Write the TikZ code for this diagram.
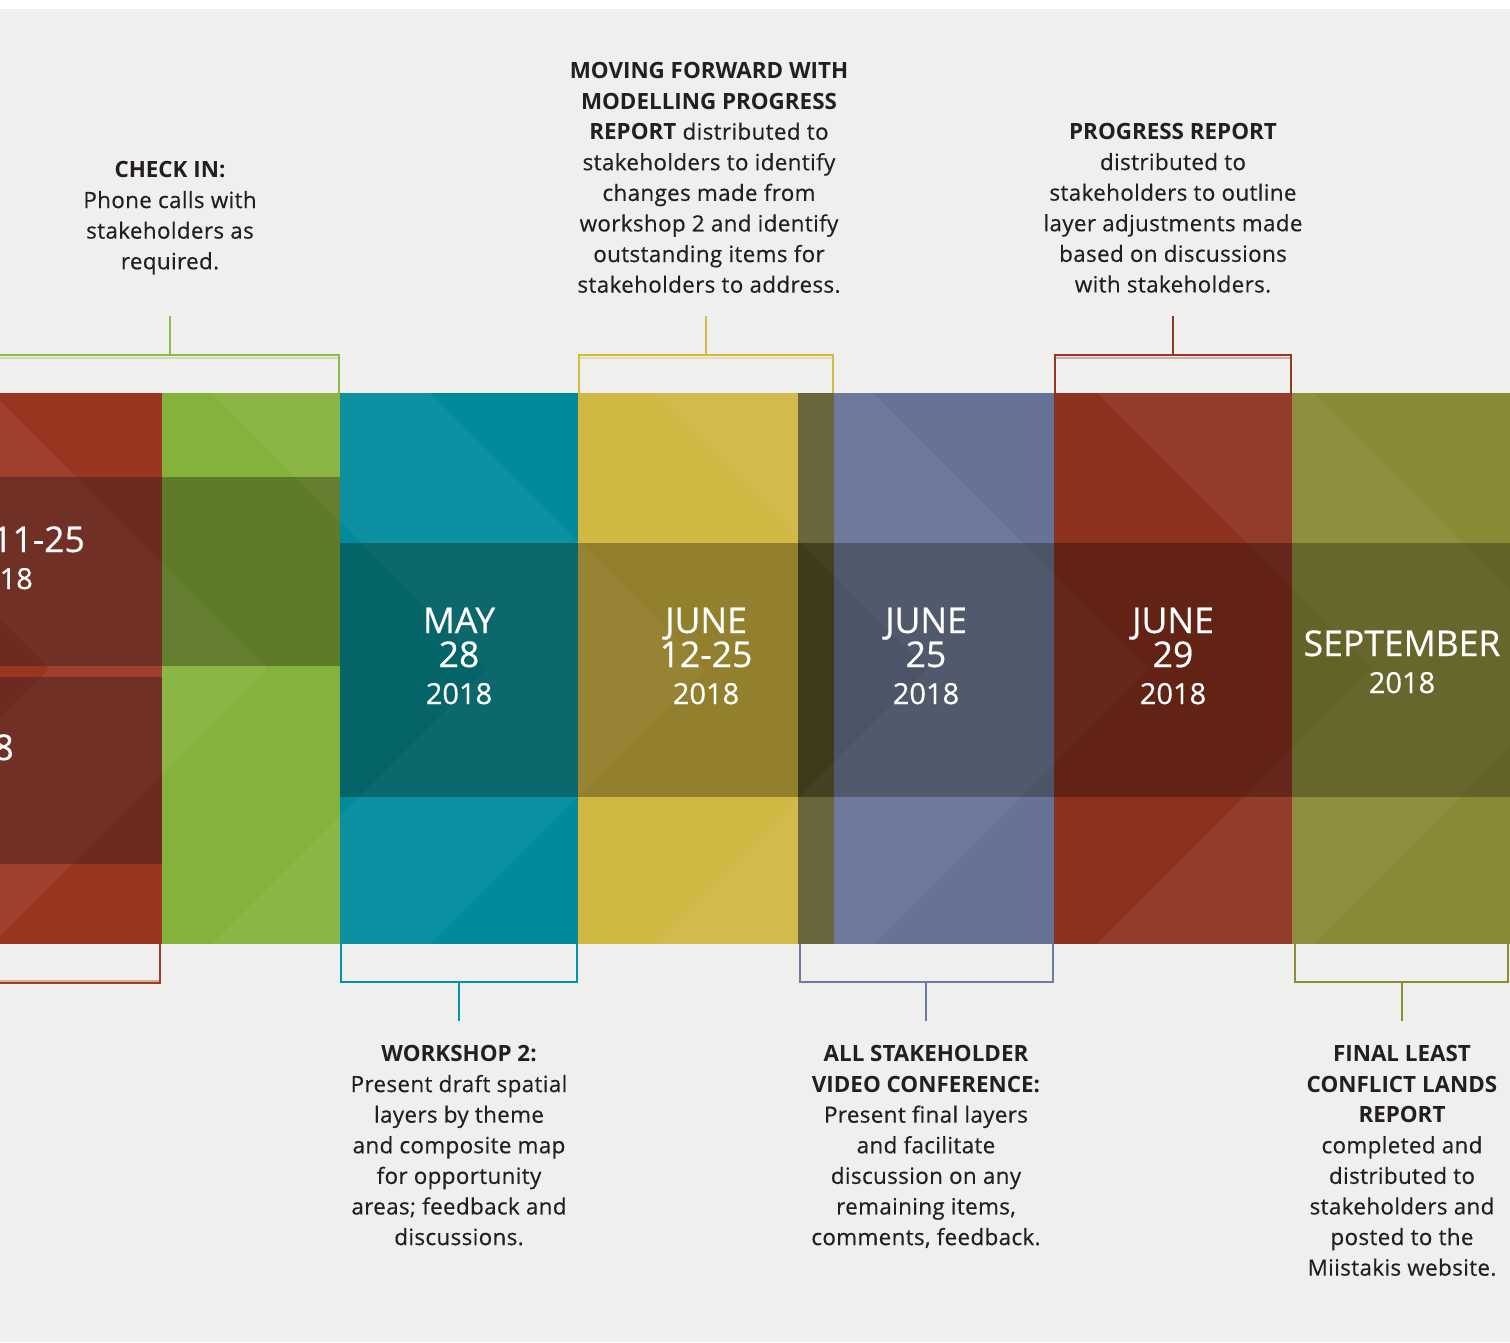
\documentclass[tikz,border=0pt]{standalone}
\usepackage{fontspec}
\setmainfont{Open Sans}
\newfontfamily\semi{Open Sans}[UprightFeatures={FakeBold=0.45,LetterSpace=1.6}]
\newfontfamily\datefont{Open Sans}[UprightFeatures={FakeBold=0.5}]
\definecolor{bg}{HTML}{EFEFED}
\definecolor{txt}{HTML}{231F20}
\definecolor{cRedL}{HTML}{9A3522}\definecolor{dRedL}{HTML}{6D2A1E}
\definecolor{cGreen}{HTML}{85B23A}\definecolor{dGreen}{HTML}{5E7B29}
\definecolor{cTeal}{HTML}{008B9C}\definecolor{dTeal}{HTML}{056468}
\definecolor{cYel}{HTML}{D0B843}\definecolor{dYel}{HTML}{93802E}
\definecolor{cOlS}{HTML}{615E34}\definecolor{dOlS}{HTML}{3D3B1B}
\definecolor{cBlue}{HTML}{667397}\definecolor{dBlue}{HTML}{4C5468}
\definecolor{cRed}{HTML}{8E3220}\definecolor{dRed}{HTML}{622214}
\definecolor{cOl}{HTML}{8A8A35}\definecolor{dOl}{HTML}{636327}
\definecolor{bGreen}{HTML}{8CBB4A}
\definecolor{bYel}{HTML}{D2BB40}
\definecolor{bRed}{HTML}{973523}
\definecolor{bRedL}{HTML}{A13B27}
\definecolor{bTeal}{HTML}{0095A7}
\definecolor{bBlue}{HTML}{6D7AA1}
\definecolor{bOl}{HTML}{8C8C34}
\tikzset{
  body/.style={align=center, text=txt, inner sep=0pt, anchor=north,
    font=\fontsize{22.4}{30.6}\semi},
  bigdate/.style={text=white, inner sep=0pt, anchor=base,
    font=\fontsize{35.5}{35.5}\datefont},
  smalldate/.style={text=white, inner sep=0pt, anchor=base,
    font=\fontsize{29}{29}\datefont},
  brk/.style={line width=2pt, line join=miter},
  brkshade/.style={line width=2pt, opacity=0.35},
}
\begin{document}
\begin{tikzpicture}[x=1pt,y=-1pt]
\useasboundingbox (0,0) rectangle (1510,1342);
\fill[white] (0,0) rectangle (1510,1342);
\fill[bg] (0,9) rectangle (1510,1342);

% columns
\fill[cRedL]  (0,393)    rectangle (162,944);
\fill[cGreen] (162,393)  rectangle (340,944);
\fill[cTeal]  (340,393)  rectangle (578,944);
\fill[cYel]   (578,393)  rectangle (798,944);
\fill[cOlS]   (798,393)  rectangle (834,944);
\fill[cBlue]  (834,393)  rectangle (1054,944);
\fill[cRed]   (1054,393) rectangle (1292,944);
\fill[cOl]    (1292,393) rectangle (1510,944);

% light chevron stripes (columns)
\begin{scope}
\clip (0,393) rectangle (1510,944);
\foreach \a/\b in {-226/-8,212/430,652/873,1097/1313}{
  \fill[white,opacity=0.05] (\a,393) -- (\a+275.5,668.5) -- (\a,944)
     -- (\b,944) -- (\b+275.5,668.5) -- (\b,393) -- cycle;
}
\end{scope}

% darker middle bands
\fill[dRedL]  (0,477)    rectangle (162,666);
\fill[dRedL]  (0,677)    rectangle (162,864);
\fill[dGreen] (162,477)  rectangle (340,666);
\fill[dTeal]  (340,543)  rectangle (578,797);
\fill[dYel]   (578,543)  rectangle (798,797);
\fill[dOlS]   (798,543)  rectangle (834,797);
\fill[dBlue]  (834,543)  rectangle (1054,797);
\fill[dRed]   (1054,543) rectangle (1292,797);
\fill[dOl]    (1292,543) rectangle (1510,797);

% fainter chevrons on the darker bands
\begin{scope}
\clip (0,477) rectangle (340,666) (0,677) rectangle (162,864) (340,543) rectangle (1510,797);
\foreach \a/\b in {-226/-8,212/430,652/873,1097/1313}{
  \fill[white,opacity=0.03] (\a,393) -- (\a+275.5,668.5) -- (\a,944)
     -- (\b,944) -- (\b+275.5,668.5) -- (\b,393) -- cycle;
}
\end{scope}

% top brackets
\coordinate (gA) at (0,355);   \coordinate (gB) at (339,355);
\coordinate (gC) at (339,393); \coordinate (gS) at (170,316); \coordinate (gM) at (170,355);
\draw[brkshade,bGreen] (0,357.5) -- (338,357.5);
\draw[brk,bGreen] (gA) -- (gB) -- (gC);
\draw[brk,bGreen] (gS) -- (gM);

\coordinate (yA) at (579,393); \coordinate (yB) at (579,355);
\coordinate (yC) at (833,355); \coordinate (yD) at (833,393);
\coordinate (yS) at (706,316); \coordinate (yM) at (706,355);
\draw[brkshade,bYel] (580,357.5) -- (832,357.5);
\draw[brk,bYel] (yA) -- (yB) -- (yC) -- (yD);
\draw[brk,bYel] (yS) -- (yM);

\coordinate (rA) at (1055,393); \coordinate (rB) at (1055,355);
\coordinate (rC) at (1291,355); \coordinate (rD) at (1291,393);
\coordinate (rS) at (1173,316); \coordinate (rM) at (1173,355);
\draw[brkshade,bRed] (1056,357.5) -- (1290,357.5);
\draw[brk,bRed] (rA) -- (rB) -- (rC) -- (rD);
\draw[brk,bRed] (rS) -- (rM);

% bottom brackets
\coordinate (lA) at (160,944); \coordinate (lB) at (160,983); \coordinate (lC) at (0,983);
\draw[brkshade,bRedL] (159,980.5) -- (0,980.5);
\draw[brk,bRedL] (lA) -- (lB) -- (lC);

\coordinate (tA) at (341,944); \coordinate (tB) at (341,982);
\coordinate (tC) at (577,982); \coordinate (tD) at (577,944);
\coordinate (tM) at (459,982); \coordinate (tS) at (459,1021);
\draw[brk,bTeal] (tA) -- (tB) -- (tC) -- (tD);
\draw[brk,bTeal] (tM) -- (tS);

\coordinate (uA) at (800,944); \coordinate (uB) at (800,982);
\coordinate (uC) at (1053,982); \coordinate (uD) at (1053,944);
\coordinate (uM) at (926,982); \coordinate (uS) at (926,1021);
\draw[brk,bBlue] (uA) -- (uB) -- (uC) -- (uD);
\draw[brk,bBlue] (uM) -- (uS);

\coordinate (oA) at (1295,944); \coordinate (oB) at (1295,982);
\coordinate (oC) at (1508,982); \coordinate (oD) at (1508,944);
\coordinate (oM) at (1402,982); \coordinate (oS) at (1402,1021);
\draw[brk,bOl] (oA) -- (oB) -- (oC) -- (oD);
\draw[brk,bOl] (oM) -- (oS);

% top texts
\node[body] (t1) at (170,161) {\textbf{CHECK IN:}\\Phone calls with\\stakeholders as\\required.};
\node[body] (t2) at (709,62) {\textbf{MOVING FORWARD WITH}\\\textbf{MODELLING PROGRESS}\\\textbf{REPORT} distributed to\\stakeholders to identify\\changes made from\\workshop 2 and identify\\outstanding items for\\stakeholders to address.};
\node[body] (t3) at (1173,123) {\textbf{PROGRESS REPORT}\\distributed to\\stakeholders to outline\\layer adjustments made\\based on discussions\\with stakeholders.};

% bottom texts
\node[body] (t4) at (459,1045) {\textbf{WORKSHOP 2:}\\Present draft spatial\\layers by theme\\and composite map\\for opportunity\\areas; feedback and\\discussions.};
\node[body] (t5) at (926,1045) {\textbf{ALL STAKEHOLDER}\\\textbf{VIDEO CONFERENCE:}\\Present final layers\\and facilitate\\discussion on any\\remaining items,\\comments, feedback.};
\node[body] (t6) at (1402,1045) {\textbf{FINAL LEAST}\\\textbf{CONFLICT LANDS}\\\textbf{REPORT}\\completed and\\distributed to\\stakeholders and\\posted to the\\Miistakis website.};

% dates
\node[bigdate, anchor=base east] (p1) at (85,552) {11-25};
\node[smalldate, anchor=base east] (p2) at (33,589) {18};
\node[bigdate, anchor=base east] (p3) at (14,760) {8};

\node[bigdate] (m1) at (459,633) {MAY};
\node[bigdate] (d1) at (459,667) {28};
\node[smalldate] (y1) at (459,704) {2018};

\node[bigdate] (m2) at (706,633) {JUNE};
\node[bigdate] (d2) at (706,667) {12-25};
\node[smalldate] (y2) at (706,704) {2018};

\node[bigdate] (m3) at (926,633) {JUNE};
\node[bigdate] (d3) at (926,667) {25};
\node[smalldate] (y3) at (926,704) {2018};

\node[bigdate] (m4) at (1173,633) {JUNE};
\node[bigdate] (d4) at (1173,667) {29};
\node[smalldate] (y4) at (1173,704) {2018};

\node[bigdate] (m5) at (1402,656) {SEPTEMBER};
\node[smalldate] (y5) at (1402,693) {2018};
\end{tikzpicture}
\end{document}
